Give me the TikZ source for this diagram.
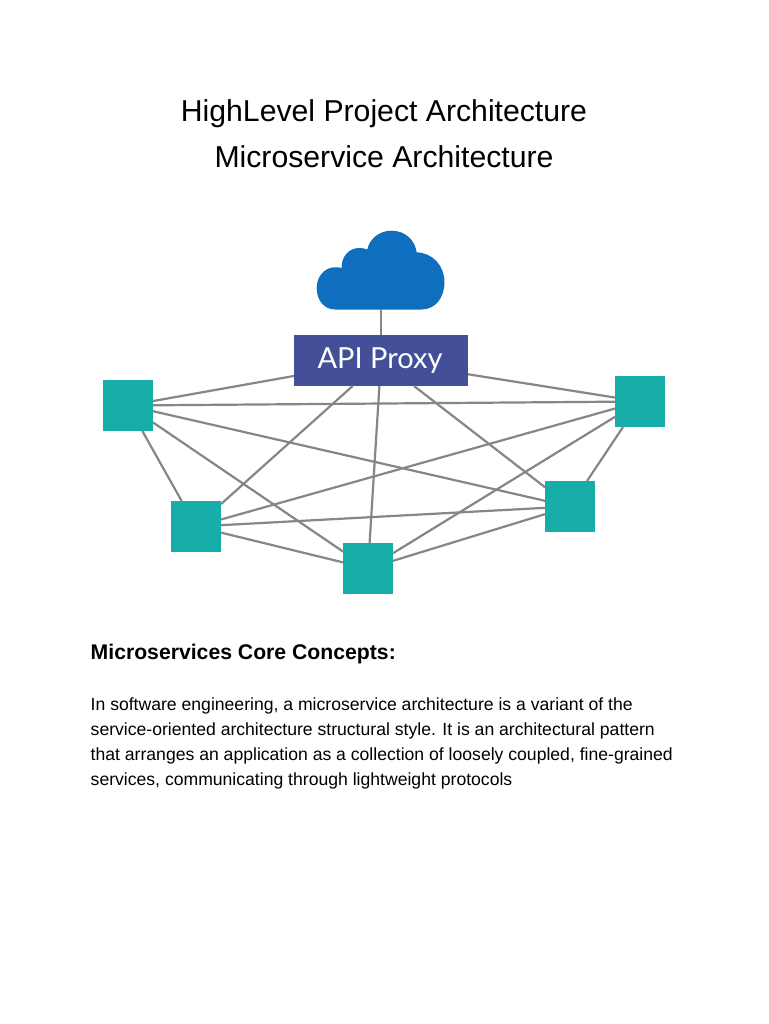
\documentclass[tikz,border=0pt]{standalone}
\usepackage{fontspec}
\setmainfont{Liberation Sans}
\newfontfamily\proxyfont{Lato}
\definecolor{teal1}{HTML}{17ADA9}
\definecolor{proxyblue}{HTML}{434F98}
\definecolor{cloudblue}{HTML}{0F6FBE}
\definecolor{edgegray}{HTML}{868686}
\tikzset{
  svc/.style={draw=none,fill=teal1,minimum width=50pt,minimum height=51pt,inner sep=0pt,outer sep=0pt},
  proxybox/.style={draw=none,fill=proxyblue,minimum width=174pt,minimum height=51pt,inner sep=0pt,outer sep=0pt,text=white,font=\proxyfont\fontsize{29}{31}\selectfont},
  link/.style={draw=edgegray,line width=2.2pt},
  titletext/.style={inner sep=0pt,anchor=base,font=\fontsize{30.2}{33}\selectfont},
  bodytext/.style={inner sep=0pt,anchor=base west,font=\fontsize{17.6}{25}\selectfont},
}
\begin{document}
\begin{tikzpicture}[x=1pt,y=-1pt]
\useasboundingbox[fill=white] (0,0) rectangle (768,1024);
\node[titletext] (t1) at (384,122) {HighLevel Project Architecture};
\node[titletext] (t2) at (384,168) {Microservice Architecture};
% cloud
\fill[cloudblue] (335,309.5)
  .. controls (324,309.5) and (316.7,300) .. (316.7,288)
  .. controls (316.7,276) and (325,267.3) .. (335,267.3)
  .. controls (337.5,267.3) and (340,267.5) .. (341.7,268)
  .. controls (341,257) and (349,248) .. (359,248)
  .. controls (362.5,248) and (365.5,248.5) .. (367.3,249.5)
  .. controls (369.5,239) and (379,230.7) .. (391.7,230.7)
  .. controls (405,230.7) and (415,240) .. (416.7,252.3)
  .. controls (433,253) and (444.5,266) .. (444.5,282)
  .. controls (444.5,298) and (435,309.5) .. (421.7,309.5) -- cycle;
\coordinate (cloud) at (381,309);
\node[proxybox] (proxy) at (381,360.5) {\hspace{-2pt}\raisebox{0pt}{API Proxy}};
\node[svc] (a) at (128,405.5) {};
\node[svc] (b) at (640,401.5) {};
\node[svc] (c) at (196,526.5) {};
\node[svc] (d) at (368,568.5) {};
\node[svc] (e) at (570,506.5) {};
\draw[link] (proxy) -- (cloud);
\foreach \u/\v in {proxy/a,proxy/b,proxy/c,proxy/d,proxy/e,a/b,a/c,a/d,a/e,b/c,b/d,b/e,c/d,c/e,d/e}
  \draw[link] (\u) -- (\v);
\node[inner sep=0pt,anchor=base west,font=\bfseries\fontsize{21.2}{24}\selectfont] (h) at (90.5,659) {Microservices Core Concepts:};
\node[bodytext] (p1) at (90.5,710) {In software engineering, a microservice architecture is a variant of the};
\node[bodytext] (p2) at (90.5,735) {service-oriented architecture structural style. It is an architectural pattern};
\node[bodytext] (p3) at (90.5,760) {that arranges an application as a collection of loosely coupled, fine-grained};
\node[bodytext] (p4) at (90.5,785) {services, communicating through lightweight protocols};
\end{tikzpicture}
\end{document}
